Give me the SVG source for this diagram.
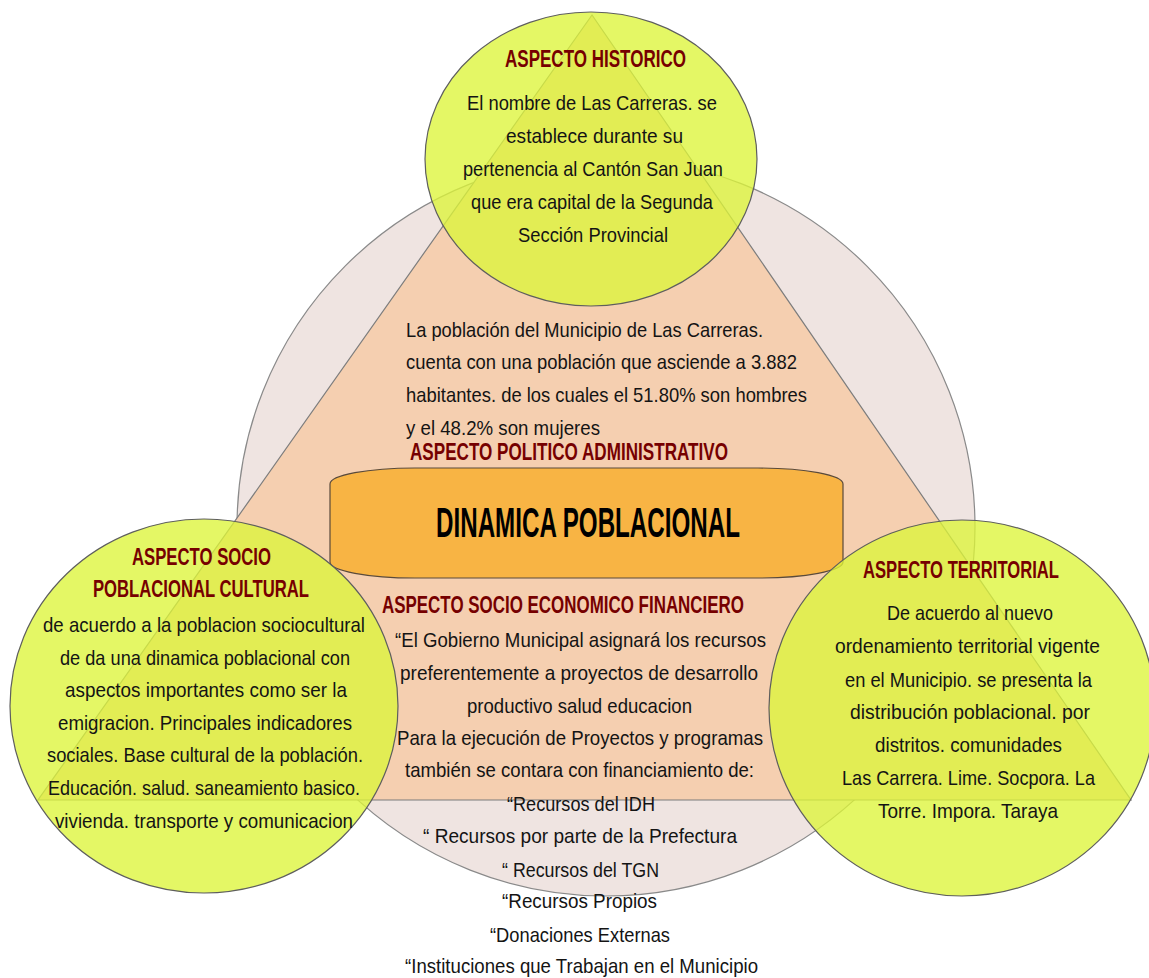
<svg xmlns="http://www.w3.org/2000/svg" width="1149" height="978" viewBox="0 0 1149 978">
<style>
.t{font-family:"Liberation Sans Narrow","Liberation Sans",Arial,sans-serif;font-size:21px;fill:#141414}
.h{font-family:"Liberation Sans Narrow","Liberation Sans",Arial,sans-serif;font-size:23px;font-weight:bold;fill:#760000}
.big{font-family:"Liberation Sans Narrow","Liberation Sans",Arial,sans-serif;font-size:42px;font-weight:bold;fill:#000}
.yc{fill:#dcf53a;fill-opacity:0.78;stroke:#5e5e5e;stroke-width:1.2}
</style>
<rect width="1149" height="978" fill="#ffffff"/>
<g id="background">
  <circle cx="606" cy="527" r="369" fill="#efe4e1" stroke="#8a8a8a" stroke-width="1.2"/>
  <polygon points="592,15 38,800 1131,800" fill="#f5cfb0" stroke="#7d7d7d" stroke-width="1.2"/>
</g>
<g id="aspecto-politico-administrativo">
  <text class="t" x="406" y="337" textLength="357" lengthAdjust="spacingAndGlyphs">La población del Municipio de Las Carreras.</text>
  <text class="t" x="406" y="369" textLength="391" lengthAdjust="spacingAndGlyphs">cuenta con una población que asciende a 3.882</text>
  <text class="t" x="406" y="402" textLength="401" lengthAdjust="spacingAndGlyphs">habitantes. de los cuales el 51.80% son hombres</text>
  <text class="t" x="406" y="435" textLength="194" lengthAdjust="spacingAndGlyphs">y el 48.2% son mujeres</text>
  <text class="h" x="410" y="460" textLength="318" lengthAdjust="spacingAndGlyphs">ASPECTO POLITICO ADMINISTRATIVO</text>
</g>
<g id="dinamica-poblacional">
  <rect x="330" y="468" width="513" height="110" rx="85" ry="16" fill="#f8b444" stroke="#5a4a3a" stroke-width="1.2"/>
  <text class="big" x="436" y="537" textLength="304" lengthAdjust="spacingAndGlyphs">DINAMICA POBLACIONAL</text>
</g>
<g id="aspecto-socio-economico-financiero">
  <text class="h" x="382" y="613" textLength="362" lengthAdjust="spacingAndGlyphs">ASPECTO SOCIO ECONOMICO FINANCIERO</text>
  <text class="t" x="395" y="647" textLength="371" lengthAdjust="spacingAndGlyphs">“El Gobierno Municipal asignará los recursos</text>
  <text class="t" x="400" y="680" textLength="358" lengthAdjust="spacingAndGlyphs">preferentemente a proyectos de desarrollo</text>
  <text class="t" x="467" y="713" textLength="225" lengthAdjust="spacingAndGlyphs">productivo salud educacion</text>
  <text class="t" x="397" y="745" textLength="366" lengthAdjust="spacingAndGlyphs">Para la ejecución de Proyectos y programas</text>
  <text class="t" x="405" y="777" textLength="349" lengthAdjust="spacingAndGlyphs">también se contara con financiamiento de:</text>
  <text class="t" x="507" y="811" textLength="148" lengthAdjust="spacingAndGlyphs">“Recursos del IDH</text>
  <text class="t" x="423" y="843" textLength="314" lengthAdjust="spacingAndGlyphs">“ Recursos por parte de la Prefectura</text>
  <text class="t" x="502" y="877" textLength="157" lengthAdjust="spacingAndGlyphs">“ Recursos del TGN</text>
  <text class="t" x="502" y="908" textLength="155" lengthAdjust="spacingAndGlyphs">“Recursos Propios</text>
  <text class="t" x="490" y="942" textLength="180" lengthAdjust="spacingAndGlyphs">“Donaciones Externas</text>
  <text class="t" x="405" y="973" textLength="353" lengthAdjust="spacingAndGlyphs">“Instituciones que Trabajan en el Municipio</text>
</g>
<g id="aspecto-historico">
  <ellipse class="yc" cx="591" cy="159" rx="166" ry="147"/>
  <text class="h" x="505" y="67" textLength="181" lengthAdjust="spacingAndGlyphs">ASPECTO HISTORICO</text>
  <text class="t" x="467" y="110" textLength="250" lengthAdjust="spacingAndGlyphs">El nombre de Las Carreras. se</text>
  <text class="t" x="506" y="143" textLength="177" lengthAdjust="spacingAndGlyphs">establece durante su</text>
  <text class="t" x="463" y="176" textLength="260" lengthAdjust="spacingAndGlyphs">pertenencia al Cantón San Juan</text>
  <text class="t" x="471" y="209" textLength="242" lengthAdjust="spacingAndGlyphs">que era capital de la Segunda</text>
  <text class="t" x="518" y="242" textLength="150" lengthAdjust="spacingAndGlyphs">Sección Provincial</text>
</g>
<g id="aspecto-socio-poblacional-cultural">
  <ellipse class="yc" cx="204" cy="706" rx="194" ry="187"/>
  <text class="h" x="132" y="565" textLength="139" lengthAdjust="spacingAndGlyphs">ASPECTO SOCIO</text>
  <text class="h" x="93" y="597" textLength="216" lengthAdjust="spacingAndGlyphs">POBLACIONAL CULTURAL</text>
  <text class="t" x="43" y="632" textLength="322" lengthAdjust="spacingAndGlyphs">de acuerdo a la poblacion sociocultural</text>
  <text class="t" x="60" y="665" textLength="290" lengthAdjust="spacingAndGlyphs">de da una dinamica poblacional con</text>
  <text class="t" x="65" y="697" textLength="282" lengthAdjust="spacingAndGlyphs">aspectos importantes como ser la</text>
  <text class="t" x="58" y="730" textLength="294" lengthAdjust="spacingAndGlyphs">emigracion. Principales indicadores</text>
  <text class="t" x="47" y="762" textLength="316" lengthAdjust="spacingAndGlyphs">sociales. Base cultural de la población.</text>
  <text class="t" x="48" y="795" textLength="312" lengthAdjust="spacingAndGlyphs">Educación. salud. saneamiento basico.</text>
  <text class="t" x="55" y="828" textLength="298" lengthAdjust="spacingAndGlyphs">vivienda. transporte y comunicacion</text>
</g>
<g id="aspecto-territorial">
  <ellipse class="yc" cx="962" cy="708" rx="193" ry="188"/>
  <text class="h" x="863" y="578" textLength="196" lengthAdjust="spacingAndGlyphs">ASPECTO TERRITORIAL</text>
  <text class="t" x="887" y="620" textLength="166" lengthAdjust="spacingAndGlyphs">De acuerdo al nuevo</text>
  <text class="t" x="835" y="653" textLength="265" lengthAdjust="spacingAndGlyphs">ordenamiento territorial vigente</text>
  <text class="t" x="845" y="687" textLength="247" lengthAdjust="spacingAndGlyphs">en el Municipio. se presenta la</text>
  <text class="t" x="850" y="719" textLength="240" lengthAdjust="spacingAndGlyphs">distribución  poblacional. por</text>
  <text class="t" x="875" y="752" textLength="187" lengthAdjust="spacingAndGlyphs">distritos. comunidades</text>
  <text class="t" x="842" y="785" textLength="253" lengthAdjust="spacingAndGlyphs">Las Carrera. Lime. Socpora. La</text>
  <text class="t" x="878" y="818" textLength="180" lengthAdjust="spacingAndGlyphs">Torre. Impora. Taraya</text>
</g>
</svg>
